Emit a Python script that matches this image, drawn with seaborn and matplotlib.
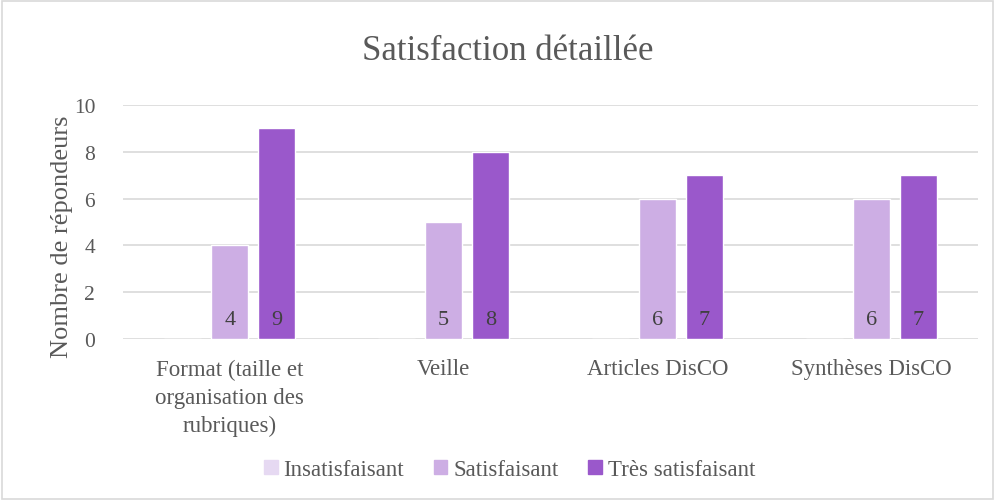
import matplotlib
matplotlib.use("Agg")
import matplotlib.pyplot as plt
import seaborn as sns
import pandas as pd
import numpy as np
from matplotlib.patches import Rectangle

categories = ["Format (taille et\norganisation des\nrubriques)", "Veille", "Articles DisCO", "Synthèses DisCO"]
series_names = ["Insatisfaisant", "Satisfaisant", "Très satisfaisant"]
insatisfaisant = [0, 0, 0, 0]
satisfaisant = [4, 5, 6, 6]
tres_satisfaisant = [9, 8, 7, 7]
colors = ["#E6D9F2", "#CDAEE4", "#9A58CB"]
yticks = [0, 2, 4, 6, 8, 10]

rows = []
for vals, name in zip([insatisfaisant, satisfaisant, tres_satisfaisant], series_names):
    for c, v in zip(categories, vals):
        rows.append({"cat": c, "serie": name, "val": v})
df = pd.DataFrame(rows)

sns.set_theme(style="white")
plt.rcParams["font.family"] = ["Liberation Serif", "DejaVu Serif"]
txt = "#595959"

fig = plt.figure(figsize=(9.95, 5.02), dpi=100)
ax = fig.add_axes([0.1236, 0.3227, 0.8594, 0.4661])
sns.barplot(data=df, x="cat", y="val", hue="serie", palette=colors, order=categories,
            hue_order=series_names, width=0.66, gap=0.21, saturation=1, ax=ax, legend=True)

for cont in ax.containers:
    for b in cont:
        h = b.get_height()
        if h > 0:
            ax.text(b.get_x() + b.get_width() / 2, 0.85, "%d" % h, ha="center", va="center",
                    fontsize=16, color="#404040")

ax.set_ylim(0, 10)
ax.set_xlim(-0.5, 3.5)
ax.set_yticks(yticks)
ax.yaxis.grid(True, color="#D9D9D9", linewidth=1.2)
ax.set_axisbelow(True)
for s in ax.spines.values():
    s.set_visible(False)
ax.tick_params(axis="both", length=0, colors=txt)
ax.tick_params(axis="y", pad=20, labelsize=15.5)
ax.tick_params(axis="x", pad=14, labelsize=16.5)
for lab in ax.get_xticklabels():
    lab.set_linespacing(1.45)
ax.set_xlabel("")
ax.set_ylabel("Nombre de répondeurs", fontsize=19, color=txt)
ax.yaxis.set_label_coords(-0.059, 0.44)
fig.text(0.51, 1 - 52 / 502, "Satisfaction détaillée", ha="center", va="center",
         fontsize=25, color=txt)

ax.legend_.remove()
handles = [Rectangle((0, 0), 1, 1, color=c) for c in colors]
fig.legend(handles, series_names, loc="center", bbox_to_anchor=(0.512, 0.063), ncol=3,
           frameon=False, fontsize=16.5, labelcolor=txt, handlelength=0.6, handleheight=0.6,
           handletextpad=0.25, columnspacing=1.3)

fig.add_artist(Rectangle((0.002, 0.003), 0.996, 0.994, transform=fig.transFigure,
                         fill=False, edgecolor="#D9D9D9", linewidth=1.2))
fig.savefig("out.png", dpi=100)
